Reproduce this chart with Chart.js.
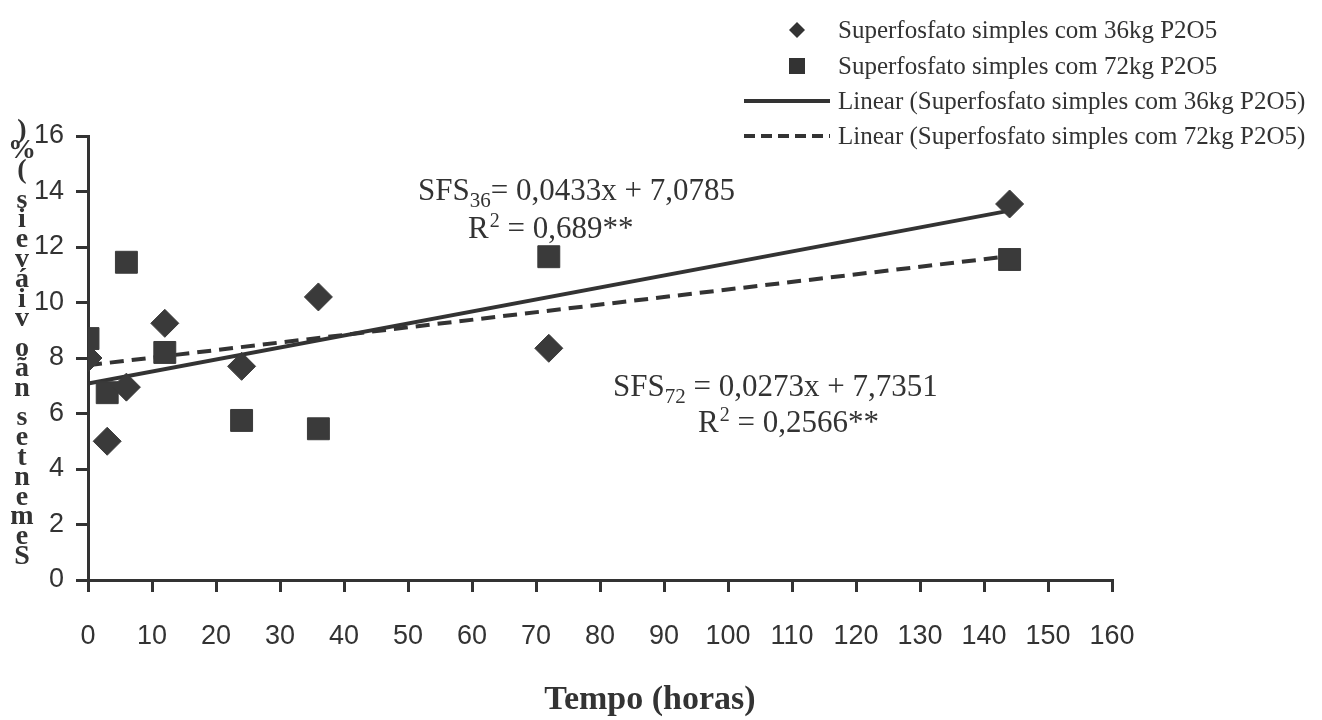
<!DOCTYPE html>
<html>
<head>
<meta charset="utf-8">
<script src="https://cdn.jsdelivr.net/npm/chart.js@4"></script>
<style>
  html, body { margin: 0; padding: 0; background: #fff; }
  #wrap { width: 1322px; height: 720px; }
</style>
</head>
<body>
<div id="wrap"><canvas id="myChart" width="1322" height="720"></canvas></div>
<script>
// data
var hours = [0, 3, 6, 12, 24, 36, 72, 144];
var seeds36 = [8.0, 5.0, 6.95, 9.25, 7.7, 10.2, 8.35, 13.55];
var seeds72 = [8.7, 6.75, 11.45, 8.2, 5.75, 5.45, 11.65, 11.55];
var trendHours = [0, 144];
var trend36 = [7.08, 13.31];
var trend72 = [7.74, 11.67];

var label36 = 'Superfosfato simples com 36kg P2O5';
var label72 = 'Superfosfato simples com 72kg P2O5';
var yTitle = 'Sementes não viáveis (%)';
var xTitle = 'Tempo (horas)';

var ink = '#333333';
var serif = "'Liberation Serif', 'Times New Roman', serif";
var sans = "'Liberation Sans', Arial, sans-serif";

function toPoints(xs, ys) {
    return xs.map(function (x, i) { return { x: x, y: ys[i] }; });
}

// legend, stacked y title, x title and the regression notes
var extras = {
    id: 'extras',
    afterDraw: function (chart) {
        var ctx = chart.ctx;
        ctx.save();
        ctx.fillStyle = ink;
        ctx.strokeStyle = ink;

        // legend
        var rows = [
            { y: 30, kind: 'diamond', text: label36 },
            { y: 66, kind: 'square', text: label72 },
            { y: 101, kind: 'solid', text: 'Linear (' + label36 + ')' },
            { y: 136, kind: 'dash', text: 'Linear (' + label72 + ')' }
        ];
        ctx.font = '25px ' + serif;
        ctx.textBaseline = 'middle';
        ctx.textAlign = 'left';
        rows.forEach(function (r) {
            if (r.kind === 'diamond') {
                ctx.beginPath();
                ctx.moveTo(797, r.y - 8); ctx.lineTo(805, r.y);
                ctx.lineTo(797, r.y + 8); ctx.lineTo(789, r.y);
                ctx.closePath(); ctx.fill();
            } else if (r.kind === 'square') {
                ctx.fillRect(789, r.y - 8, 16, 16);
            } else {
                ctx.lineWidth = 4;
                ctx.setLineDash(r.kind === 'dash' ? [11, 6] : []);
                ctx.beginPath();
                ctx.moveTo(744, r.y); ctx.lineTo(830, r.y);
                ctx.stroke();
                ctx.setLineDash([]);
            }
            ctx.fillText(r.text, 838, r.y + 1);
        });

        // y title, letters stacked from the bottom up (spaces take half a step)
        ctx.font = 'bold 28px ' + serif;
        ctx.textAlign = 'center';
        ctx.textBaseline = 'alphabetic';
        var yPos = 564;
        yTitle.split('').forEach(function (c) {
            if (c === ' ') { yPos -= 9.9; return; }
            ctx.fillText(c, 22, yPos);
            yPos -= 19.8;
        });

        // x title
        ctx.font = 'bold 34px ' + serif;
        ctx.textBaseline = 'middle';
        ctx.fillText(xTitle, 650, 700);

        // regression equations
        ctx.textAlign = 'left';
        ctx.textBaseline = 'alphabetic';
        function eq(x, y, main, sub, rest) {
            ctx.font = '31px ' + serif;
            ctx.fillText(main, x, y);
            var w = ctx.measureText(main).width;
            ctx.font = '21px ' + serif;
            ctx.fillText(sub, x + w, y + 7);
            var w2 = ctx.measureText(sub).width;
            ctx.font = '31px ' + serif;
            ctx.fillText(rest, x + w + w2, y);
        }
        function r2(x, y, rest) {
            ctx.font = '31px ' + serif;
            ctx.fillText('R', x, y);
            var w = ctx.measureText('R').width;
            ctx.font = '20px ' + serif;
            ctx.fillText('2', x + w + 1, y - 11);
            var w2 = ctx.measureText('2').width;
            ctx.font = '31px ' + serif;
            ctx.fillText(' ' + rest, x + w + w2 + 1, y);
        }
        eq(418, 200, 'SFS', '36', '= 0,0433x + 7,0785');
        r2(468, 238, '= 0,689**');
        eq(613, 396, 'SFS', '72', ' = 0,0273x + 7,7351');
        r2(698, 432, '= 0,2566**');

        ctx.restore();
    }
};

var ctx = document.getElementById('myChart').getContext('2d');

var graphData = {
    type: 'scatter',
    data: {
        datasets: [{
            label: label36,
            data: toPoints(hours, seeds36),
            pointStyle: 'rectRot',
            pointRadius: 14,
            backgroundColor: '#3a3a3a',
            borderColor: '#3a3a3a',
            borderWidth: 1,
            order: 1
        }, {
            label: label72,
            data: toPoints(hours, seeds72),
            pointStyle: 'rect',
            pointRadius: 15.5,
            backgroundColor: '#3a3a3a',
            borderColor: '#3a3a3a',
            borderWidth: 1,
            order: 2
        }, {
            label: 'Linear (' + label36 + ')',
            type: 'line',
            data: toPoints(trendHours, trend36),
            borderColor: ink,
            borderWidth: 4,
            pointRadius: 0,
            fill: false,
            order: 3
        }, {
            label: 'Linear (' + label72 + ')',
            type: 'line',
            data: toPoints(trendHours, trend72),
            borderColor: ink,
            borderWidth: 4,
            borderDash: [14, 8],
            pointRadius: 0,
            fill: false,
            order: 4
        }]
    },
    options: {
        responsive: false,
        animation: false,
        layout: { padding: { left: 0, top: 136, right: 210, bottom: 0 } },
        plugins: {
            legend: { display: false },
            tooltip: { enabled: false }
        },
        scales: {
            x: {
                type: 'linear',
                min: 0,
                max: 160,
                afterFit: function (s) { s.height = 140; },
                border: { color: ink, width: 3 },
                grid: { drawOnChartArea: false, drawTicks: true, tickLength: 12, color: ink, lineWidth: 3 },
                ticks: { stepSize: 10, padding: 28, color: ink, font: { family: sans, size: 27 } }
            },
            y: {
                min: 0,
                max: 16,
                afterFit: function (s) { s.width = 88; },
                border: { color: ink, width: 3 },
                grid: { drawOnChartArea: false, drawTicks: true, tickLength: 12, color: ink, lineWidth: 3 },
                ticks: { stepSize: 2, padding: 12, color: ink, font: { family: sans, size: 27 } }
            }
        }
    },
    plugins: [extras]
};

var myChart = new Chart(ctx, graphData);
</script>
</body>
</html>
